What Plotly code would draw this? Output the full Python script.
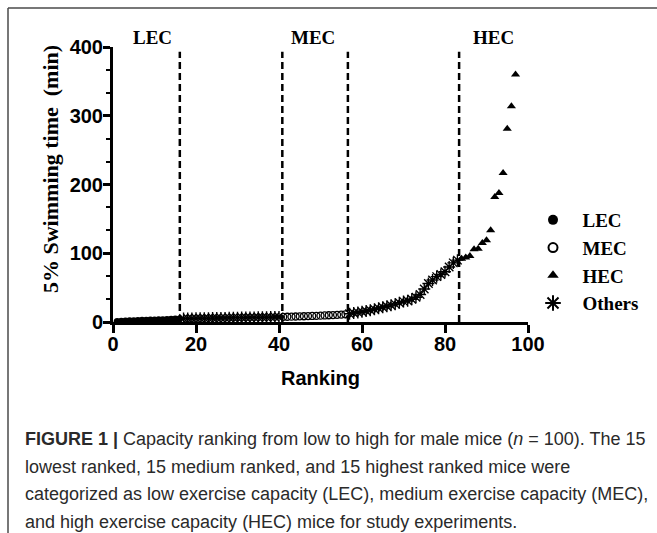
import plotly.graph_objects as go

# ---------------- data ----------------
lec_rank = list(range(1, 17))
lec_time = [0.8, 1.2, 1.5, 1.8, 2.0, 2.2, 2.4, 2.6, 2.8, 3.0, 3.2, 3.4, 3.6, 3.9, 4.2, 4.5]

others1_rank = list(range(17, 41))
others1_time = [5.0, 5.1, 5.2, 5.3, 5.4, 5.5, 5.6, 5.7, 5.8, 5.9, 6.0, 6.1,
                6.2, 6.3, 6.4, 6.5, 6.6, 6.7, 6.8, 6.9, 7.0, 7.1, 7.2, 7.3]

mec_rank = list(range(41, 57))
mec_time = [7.4, 7.6, 7.8, 8.0, 8.2, 8.4, 8.6, 8.8, 9.0, 9.2, 9.5, 9.8, 10.1, 10.4, 10.8, 11.2]

others2_rank = list(range(57, 84))
others2_time = [12, 13, 14, 15, 16, 17, 18.5, 20, 21.5, 23, 24.5, 26, 28, 30, 31, 33,
                36, 40, 48, 56, 61, 66, 69, 73, 80, 86, 90]

hec_rank = list(range(84, 98))
hec_time = [92, 94, 96, 105.7, 106.7, 115, 118.8, 133.4, 181.8, 187.7, 216.7, 281, 313.7, 360]

boundaries = [16.1, 40.8, 56.6, 83.4]
group_labels = ["LEC", "MEC", "HEC"]
group_label_x = [9.4, 48.2, 91.6]

x_ticks = [0, 20, 40, 60, 80, 100]
y_ticks = [0, 100, 200, 300, 400]

legend_names = ["LEC", "MEC", "HEC", "Others"]

caption_lines = [
    "<b>FIGURE 1 |</b> Capacity ranking from low to high for male mice (<i>n</i> = 100). The 15",
    "lowest ranked, 15 medium ranked, and 15 highest ranked mice were",
    "categorized as low exercise capacity (LEC), medium exercise capacity (MEC),",
    "and high exercise capacity (HEC) mice for study experiments.",
]

# ---------------- layout geometry (pixels) ----------------
W, H = 657, 533
L, R, T, B = 113, 129, 47, 211
PW, PH = W - L - R, H - T - B


def px_x(x):
    return (x - L) / PW


def px_y(y):
    return (H - B - y) / PH


SERIF = "Liberation Serif"
SANS = "Liberation Sans"
PAD = "\u00a0\u00a0"

fig = go.Figure()

# data traces (no legend)
fig.add_trace(go.Scatter(x=lec_rank, y=lec_time, mode="markers", showlegend=False,
                         marker=dict(symbol="circle", size=7, color="black")))
fig.add_trace(go.Scatter(x=others1_rank + others2_rank, y=others1_time + others2_time,
                         mode="markers", showlegend=False,
                         marker=dict(symbol="asterisk-open", size=10, color="black",
                                     line=dict(width=1.4, color="black"))))
fig.add_trace(go.Scatter(x=mec_rank, y=mec_time, mode="markers", showlegend=False,
                         marker=dict(symbol="circle-open", size=7, color="black",
                                     line=dict(width=1.3, color="black"))))
fig.add_trace(go.Scatter(x=hec_rank, y=hec_time, mode="markers", showlegend=False,
                         marker=dict(symbol="triangle-up", size=8, color="black")))

# legend entries
legend_markers = [
    dict(symbol="circle", size=10, color="black"),
    dict(symbol="circle-open", size=9, color="black", line=dict(width=2, color="black")),
    dict(symbol="triangle-up", size=10, color="black"),
    dict(symbol="asterisk-open", size=13, color="black", line=dict(width=2, color="black")),
]
for nm, mk in zip(legend_names, legend_markers):
    fig.add_trace(go.Scatter(x=[None], y=[None], mode="markers", name=PAD + nm, marker=mk))

shapes = []
for b in boundaries:
    shapes.append(dict(type="line", xref="x", yref="y", x0=b, x1=b, y0=0, y1=393,
                       line=dict(color="black", width=2.5, dash="7px,4px")))
# frame (top and left border)
shapes.append(dict(type="line", xref="paper", yref="paper",
                   x0=px_x(8), x1=px_x(W + 5), y0=px_y(8), y1=px_y(8),
                   line=dict(color="#4a4a4a", width=1.5)))
shapes.append(dict(type="line", xref="paper", yref="paper",
                   x0=px_x(8), x1=px_x(8), y0=px_y(8), y1=px_y(H + 5),
                   line=dict(color="#4a4a4a", width=1.5)))

annotations = []
for lab, gx in zip(group_labels, group_label_x):
    annotations.append(dict(x=gx, y=px_y(37), xref="x", yref="paper", text="<b>%s</b>" % lab,
                            showarrow=False, xanchor="center", yanchor="middle",
                            font=dict(family=SERIF, size=19, color="black")))
annotations.append(dict(x=px_x(50), y=px_y(169), xref="paper", yref="paper",
                        text="<b>5% Swimming time  (min)</b>", textangle=-90,
                        showarrow=False, xanchor="center", yanchor="middle",
                        font=dict(family=SERIF, size=22, color="black")))
annotations.append(dict(x=px_x(320), y=px_y(378), xref="paper", yref="paper",
                        text="<b>Ranking</b>", showarrow=False,
                        xanchor="center", yanchor="middle",
                        font=dict(family=SANS, size=20, color="black")))
for i, line in enumerate(caption_lines):
    annotations.append(dict(x=px_x(23), y=px_y(439 + i * 27.5), xref="paper", yref="paper",
                            text=line, showarrow=False, xanchor="left", yanchor="middle",
                            align="left",
                            font=dict(family=SANS, size=18, color="#2a2a2a")))

fig.update_layout(
    width=W, height=H,
    margin=dict(l=L, r=R, t=T, b=B, pad=0),
    paper_bgcolor="white", plot_bgcolor="white",
    shapes=shapes, annotations=annotations,
    legend=dict(x=px_x(533), y=px_y(201), xanchor="left", yanchor="top",
                font=dict(family=SERIF, size=19, color="black", weight="bold"),
                bgcolor="rgba(0,0,0,0)", borderwidth=0),
    xaxis=dict(range=[0, 100], tickvals=x_ticks, showgrid=False, zeroline=False,
               showline=True, linecolor="black", linewidth=3,
               ticks="outside", ticklen=8, tickwidth=2.5, tickcolor="black",
               ticklabelstandoff=-6,
               tickfont=dict(family=SANS, size=20, color="black", weight="bold")),
    yaxis=dict(range=[0, 400], tickvals=y_ticks, showgrid=False, zeroline=False,
               showline=True, linecolor="black", linewidth=3,
               ticks="outside", ticklen=7, tickwidth=2.5, tickcolor="black",
               ticklabelstandoff=-4,
               tickfont=dict(family=SANS, size=20, color="black", weight="bold"),
               minor=dict(tickmode="linear", tick0=0, dtick=100 / 3, ticks="outside",
                          ticklen=4, tickwidth=2, tickcolor="black")),
)

fig.write_html("out.html")
